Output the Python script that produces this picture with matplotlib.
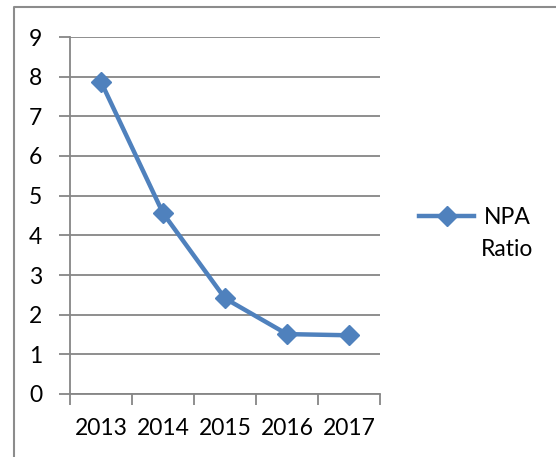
import matplotlib.pyplot as plt
from matplotlib.lines import Line2D

# data
years = ['2013', '2014', '2015', '2016', '2017']
npa_ratio = [7.87, 4.56, 2.41, 1.51, 1.48]
yticks = list(range(0, 10))

blue = '#4F81BD'
grey = '#868686'
fs = 16.5

plt.rcParams['font.family'] = ['Lato', 'DejaVu Sans']

fig = plt.figure(figsize=(5.56, 4.57), dpi=100)
ax = fig.add_axes([70/556, 1 - 394/457, 310/556, 357/457])

x = list(range(len(years)))
line, = ax.plot(x, npa_ratio, color=blue, lw=3.2, marker='D', ms=10.5,
                markerfacecolor=blue, markeredgecolor=blue, clip_on=False,
                zorder=3)

ax.set_xlim(-0.5, len(years) - 0.5)
ax.set_ylim(0, 9)
ax.set_yticks(yticks)
ax.set_xticks(x)
ax.set_xticklabels(years, fontsize=fs)
ax.set_xticks([i - 0.5 for i in range(len(years) + 1)], minor=True)
ax.tick_params(axis='x', which='major', length=0, pad=17)
ax.tick_params(axis='x', which='minor', length=8, width=1.3, color=grey)
ax.tick_params(axis='y', length=8, width=1.3, color=grey, labelsize=fs, pad=12)

ax.grid(axis='y', color=grey, lw=1.3)
ax.set_axisbelow(True)
for s in ['top', 'right']:
    ax.spines[s].set_visible(False)
for s in ['left', 'bottom']:
    ax.spines[s].set_color(grey)
    ax.spines[s].set_linewidth(1.3)

# legend: handle lines up with the first word, second word wraps below
fig.legend([line], ['NPA'], loc='center left',
           bbox_to_anchor=(419/556, 1 - 218/457), frameon=False,
           fontsize=fs, handlelength=2.4, handletextpad=0.45,
           borderpad=0, borderaxespad=0)
fig.text(507/556, 1 - 249/457, 'Ratio', fontsize=fs, ha='center', va='center')

# outer border (left and top only visible)
fig.add_artist(Line2D([14/556, 14/556, 1.0], [0.0, 1 - 7/457, 1 - 7/457],
                      transform=fig.transFigure, color='#8c8c8c', lw=1.5))

fig.savefig('out.png', dpi=100)
